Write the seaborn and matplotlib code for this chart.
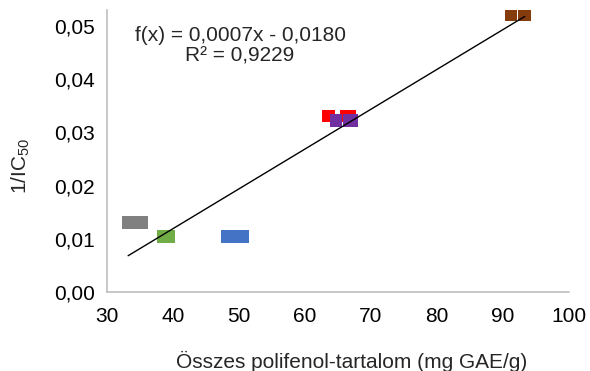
import matplotlib
matplotlib.use("Agg")
import matplotlib.pyplot as plt
import seaborn as sns
import numpy as np
import pandas as pd

# data (three replicates per sample)
samples = ["A"] * 3 + ["B"] * 3 + ["C"] * 3 + ["D"] * 3 + ["E"] * 3 + ["F"] * 3
polyphenol = [33.2, 34.2, 35.2,
              38.5, 38.9, 39.3,
              48.3, 49.4, 50.5,
              63.6, 66.2, 66.8,
              64.7, 66.7, 67.1,
              91.2, 93.3, 93.3]
inv_ic50 = [0.0131, 0.0131, 0.0131,
            0.0104, 0.0104, 0.0104,
            0.0105, 0.0105, 0.0105,
            0.0331, 0.0331, 0.0331,
            0.0322, 0.0322, 0.0322,
            0.0521, 0.0521, 0.0521]
colors = ["#808080", "#70AD47", "#4472C4", "#FF0000", "#7030A0", "#843C0C"]

df = pd.DataFrame({"sample": samples, "x": polyphenol, "y": inv_ic50})

sns.set_style("white")
plt.rcParams["font.family"] = ["Liberation Sans", "DejaVu Sans"]
plt.rcParams["mathtext.fontset"] = "custom"
plt.rcParams["mathtext.rm"] = "Liberation Sans"

fig = plt.figure(figsize=(5.9, 3.71), dpi=100)
ax = fig.add_axes([0.1814, 0.2129, 0.783, 0.760])

sns.scatterplot(data=df, x="x", y="y", hue="sample", palette=colors,
                marker="s", s=85, linewidth=0,
                legend=False, ax=ax, zorder=2)

# linear trendline over the data range
slope, intercept = np.polyfit(df["x"], df["y"], 1)
xs = np.array([df["x"].min(), df["x"].max()])
ax.plot(xs, slope * xs + intercept, color="black", linewidth=1, zorder=3)

ax.text(0.288, 0.873, "f(x) = 0,0007x - 0,0180\nR² = 0,9229",
        transform=ax.transAxes, ha="center", va="center",
        fontsize=15, linespacing=1.12)

ax.set_xlim(30, 100)
ax.set_ylim(0, 0.053)
ax.set_xticks(range(30, 101, 10))
ax.set_yticks([0, 0.01, 0.02, 0.03, 0.04, 0.05])
ax.set_yticklabels([f"{v:.2f}".replace(".", ",") for v in ax.get_yticks()])

for side in ["top", "right"]:
    ax.spines[side].set_visible(False)
for side in ["left", "bottom"]:
    ax.spines[side].set_color("#BFBFBF")
    ax.spines[side].set_linewidth(1.2)
ax.tick_params(axis="both", direction="out", length=5, width=1.2,
               color="#BFBFBF", labelsize=15, labelcolor="black")
ax.tick_params(axis="x", pad=6)
ax.tick_params(axis="y", pad=3.5)

ax.set_xlabel("Összes polifenol-tartalom (mg GAE/g)", fontsize=15, labelpad=18)
ax.set_ylabel(r"1/IC$_\mathregular{50}$", fontsize=15, labelpad=16)
ax.xaxis.label.set_x(0.53)
ax.yaxis.label.set_y(0.447)

fig.savefig("out.png", dpi=100)
